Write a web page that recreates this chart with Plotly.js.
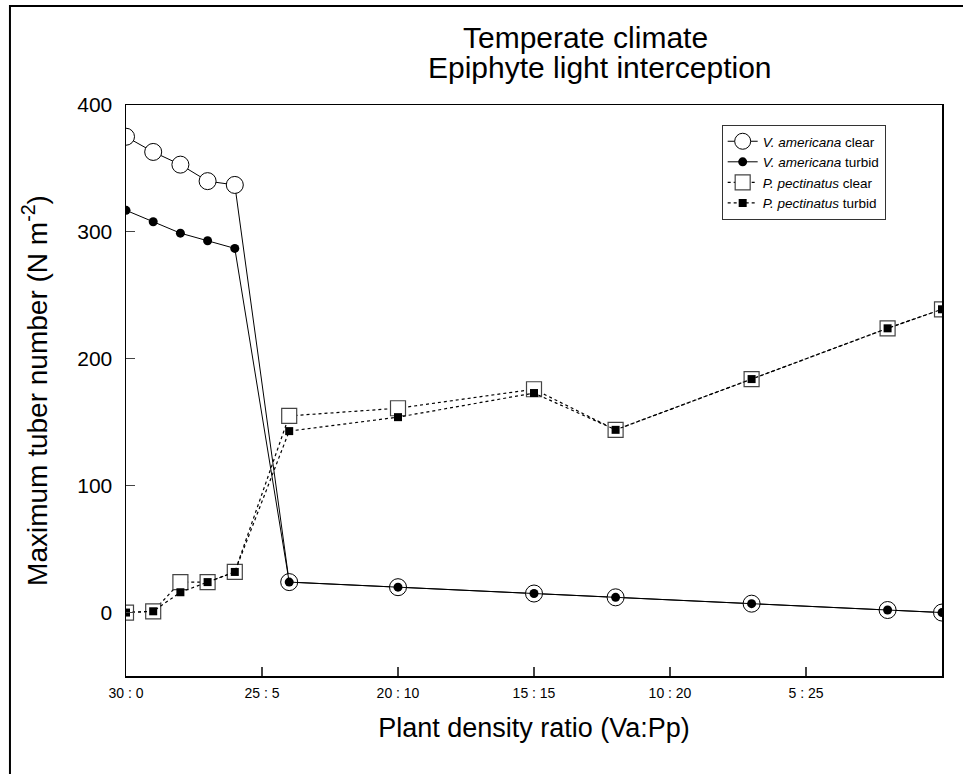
<!DOCTYPE html>
<html>
<head>
<meta charset="utf-8">
<script src="https://cdn.plot.ly/plotly-3.0.1.min.js"></script>
<style>
  html, body { margin: 0; padding: 0; background: #fff; }
  #chart { width: 963px; height: 774px; }
</style>
</head>
<body>
<div id="chart"></div>
<script>
// number of P. pectinatus plants in the mix (x position)
const ppCount = [0, 1, 2, 3, 4, 6, 10, 15, 18, 23, 28, 30];

const vaClear  = [375, 363, 353, 340, 337, 24, 20, 15, 12, 7, 2, 0];
const vaTurbid = [317, 308, 299, 293, 287, 24, 20, 15, 12, 7, 2, 0];
const ppClear  = [0, 1, 24, 24, 32, 155, 161, 176, 144, 184, 224, 239];
const ppTurbid = [0, 1, 16, 24, 32, 143, 154, 173, 144, 184, 224, 239];

const tickPos = [0, 5, 10, 15, 20, 25];
const tickLabels = ['30 : 0', '25 : 5', '20 : 10', '15 : 15', '10 : 20', '5 : 25'];

const titleLines = ['Temperate climate', 'Epiphyte light interception'];

const FONT = 'Liberation Sans, Arial, sans-serif';

const traces = [
    {
        x: ppCount, y: vaClear,
        mode: 'lines+markers',
        name: '<i>V. americana</i> clear',
        line: { color: 'black', width: 1 },
        marker: { symbol: 'circle', size: 17, color: 'white', line: { color: 'black', width: 1 } }
    },
    {
        x: ppCount, y: vaTurbid,
        mode: 'lines+markers',
        name: '<i>V. americana</i> turbid',
        line: { color: 'black', width: 1 },
        marker: { symbol: 'circle', size: 9, color: 'black' }
    },
    {
        x: ppCount, y: ppClear,
        mode: 'lines+markers',
        name: '<i>P. pectinatus</i> clear',
        line: { color: 'black', width: 1.2, dash: 'dot' },
        marker: { symbol: 'square', size: 15, color: 'white', line: { color: '#444', width: 1.2 } }
    },
    {
        x: ppCount, y: ppTurbid,
        mode: 'lines+markers',
        name: '<i>P. pectinatus</i> turbid',
        line: { color: 'black', width: 1.2, dash: 'dot' },
        marker: { symbol: 'square', size: 8, color: 'black' }
    }
];

const layout = {
    width: 963,
    height: 774,
    margin: { l: 126, r: 21, t: 105, b: 98 },
    paper_bgcolor: 'white',
    plot_bgcolor: 'white',
    font: { family: FONT, color: 'black' },
    xaxis: {
        range: [0, 30],
        tickvals: tickPos,
        ticktext: tickLabels,
        ticks: 'inside', ticklen: 9, tickwidth: 1.2,
        tickfont: { size: 14 },
        ticklabelstandoff: 4,
        showline: true, mirror: true, linecolor: 'black', linewidth: 1.5,
        showgrid: false, zeroline: false,
        title: { text: 'Plant density ratio (Va:Pp)', font: { size: 27 }, standoff: 18 }
    },
    yaxis: {
        range: [-50, 400],
        tickvals: [0, 100, 200, 300, 400],
        ticks: 'inside', ticklen: 9, tickwidth: 1.2,
        tickfont: { size: 21 },
        ticklabelstandoff: 8,
        showline: true, mirror: true, linecolor: 'black', linewidth: 1.5,
        showgrid: false, zeroline: false,
        title: { text: 'Maximum tuber number (N m<sup>-2</sup>)', font: { size: 28 }, standoff: 21 }
    },
    annotations: [
        {
            text: titleLines[0], xref: 'paper', yref: 'paper',
            x: 0.5637, y: 1.1182, xanchor: 'center', yanchor: 'middle',
            showarrow: false, font: { size: 30, family: FONT }
        },
        {
            text: titleLines[1], xref: 'paper', yref: 'paper',
            x: 0.5803, y: 1.0657, xanchor: 'center', yanchor: 'middle',
            showarrow: false, font: { size: 30, family: FONT }
        }
    ],
    legend: {
        x: 0.73, y: 0.965, xanchor: 'left', yanchor: 'top',
        bgcolor: 'white', bordercolor: '#333', borderwidth: 1,
        font: { size: 13.5, family: FONT }
    },
    shapes: [
        {
            type: 'rect', xref: 'paper', yref: 'paper',
            x0: -0.1422, x1: 1.3, y0: -0.5, y1: 1.1734,
            line: { color: 'black', width: 2 }, fillcolor: 'rgba(0,0,0,0)', layer: 'below'
        }
    ],
    showlegend: true
};

Plotly.newPlot('chart', traces, layout, { staticPlot: true });
</script>
</body>
</html>
